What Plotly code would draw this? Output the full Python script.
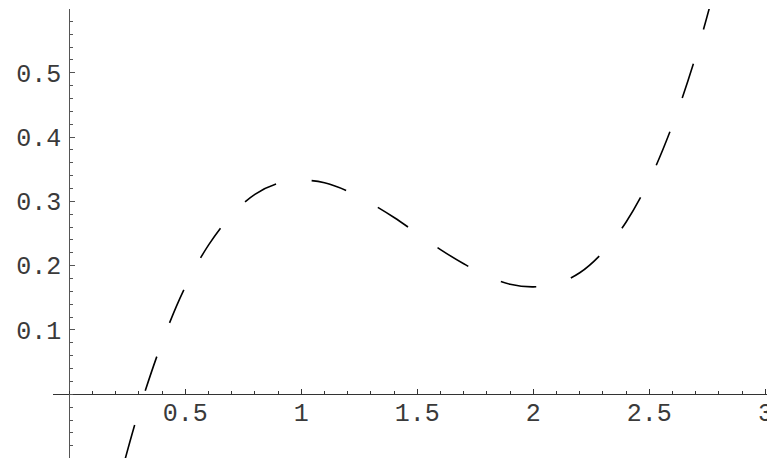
import plotly.graph_objects as go

# values
x_vals = [0.24, 0.3, 0.4, 0.5, 0.6, 0.7, 0.8, 0.9, 1.0, 1.1, 1.2, 1.3, 1.4, 1.5,
          1.6, 1.7, 1.8, 1.9, 2.0, 2.1, 2.2, 2.3, 2.4, 2.5, 2.6, 2.7, 2.8]
y_vals = [-0.102, -0.026, 0.081, 0.167, 0.232, 0.279, 0.311, 0.328, 0.333, 0.329,
          0.316, 0.297, 0.275, 0.250, 0.225, 0.203, 0.184, 0.171, 0.167, 0.172,
          0.189, 0.221, 0.268, 0.333, 0.419, 0.526, 0.657]

x_ticks = [0.5, 1, 1.5, 2, 2.5, 3]
x_labels = ["0.5", "1", "1.5", "2", "2.5", "3"]
y_ticks = [0.1, 0.2, 0.3, 0.4, 0.5]
y_labels = ["0.1", "0.2", "0.3", "0.4", "0.5"]

fig = go.Figure()
fig.add_trace(go.Scatter(
    x=x_vals, y=y_vals, mode="lines",
    line=dict(color="black", width=1.6, dash="36px,36px", shape="spline"),
    showlegend=False, hoverinfo="skip",
))

font = dict(family="Liberation Mono, Courier New, monospace", size=25, color="#3a3a3a")

fig.update_layout(
    width=767, height=458,
    margin=dict(l=0, r=0, t=0, b=0),
    paper_bgcolor="white", plot_bgcolor="white",
    showlegend=False,
    xaxis=dict(
        domain=[53 / 767, 1], range=[-0.070, 3.007],
        anchor="free", position=(458 - 394.3) / 458,
        showline=True, linecolor="#333", linewidth=1,
        ticks="inside", ticklen=5, tickcolor="#333", tickwidth=1,
        tickmode="array", tickvals=x_ticks, ticktext=x_labels,
        tickfont=font, showgrid=False, zeroline=False, automargin=False,
        ticklabeloverflow="allow", ticklabelstandoff=-4,
        minor=dict(ticks="inside", ticklen=3, tickcolor="#333", tickwidth=1,
                   dtick=0.1, tick0=0, showgrid=False),
    ),
    yaxis=dict(
        domain=[0, 449 / 458], range=[-0.0991, 0.5992],
        anchor="free", position=69.3 / 767,
        showline=True, linecolor="#555", linewidth=1,
        ticks="inside", ticklen=5, tickcolor="#555", tickwidth=1,
        tickmode="array", tickvals=y_ticks, ticktext=y_labels,
        tickfont=font, showgrid=False, zeroline=False, automargin=False,
        ticklabeloverflow="allow", ticklabelstandoff=3,
        minor=dict(ticks="inside", ticklen=3, tickcolor="#555", tickwidth=1,
                   dtick=0.02, tick0=0, showgrid=False),
    ),
)

fig.write_html("out.html", config={"displayModeBar": False},
               post_script="document.body.style.margin='0';")
